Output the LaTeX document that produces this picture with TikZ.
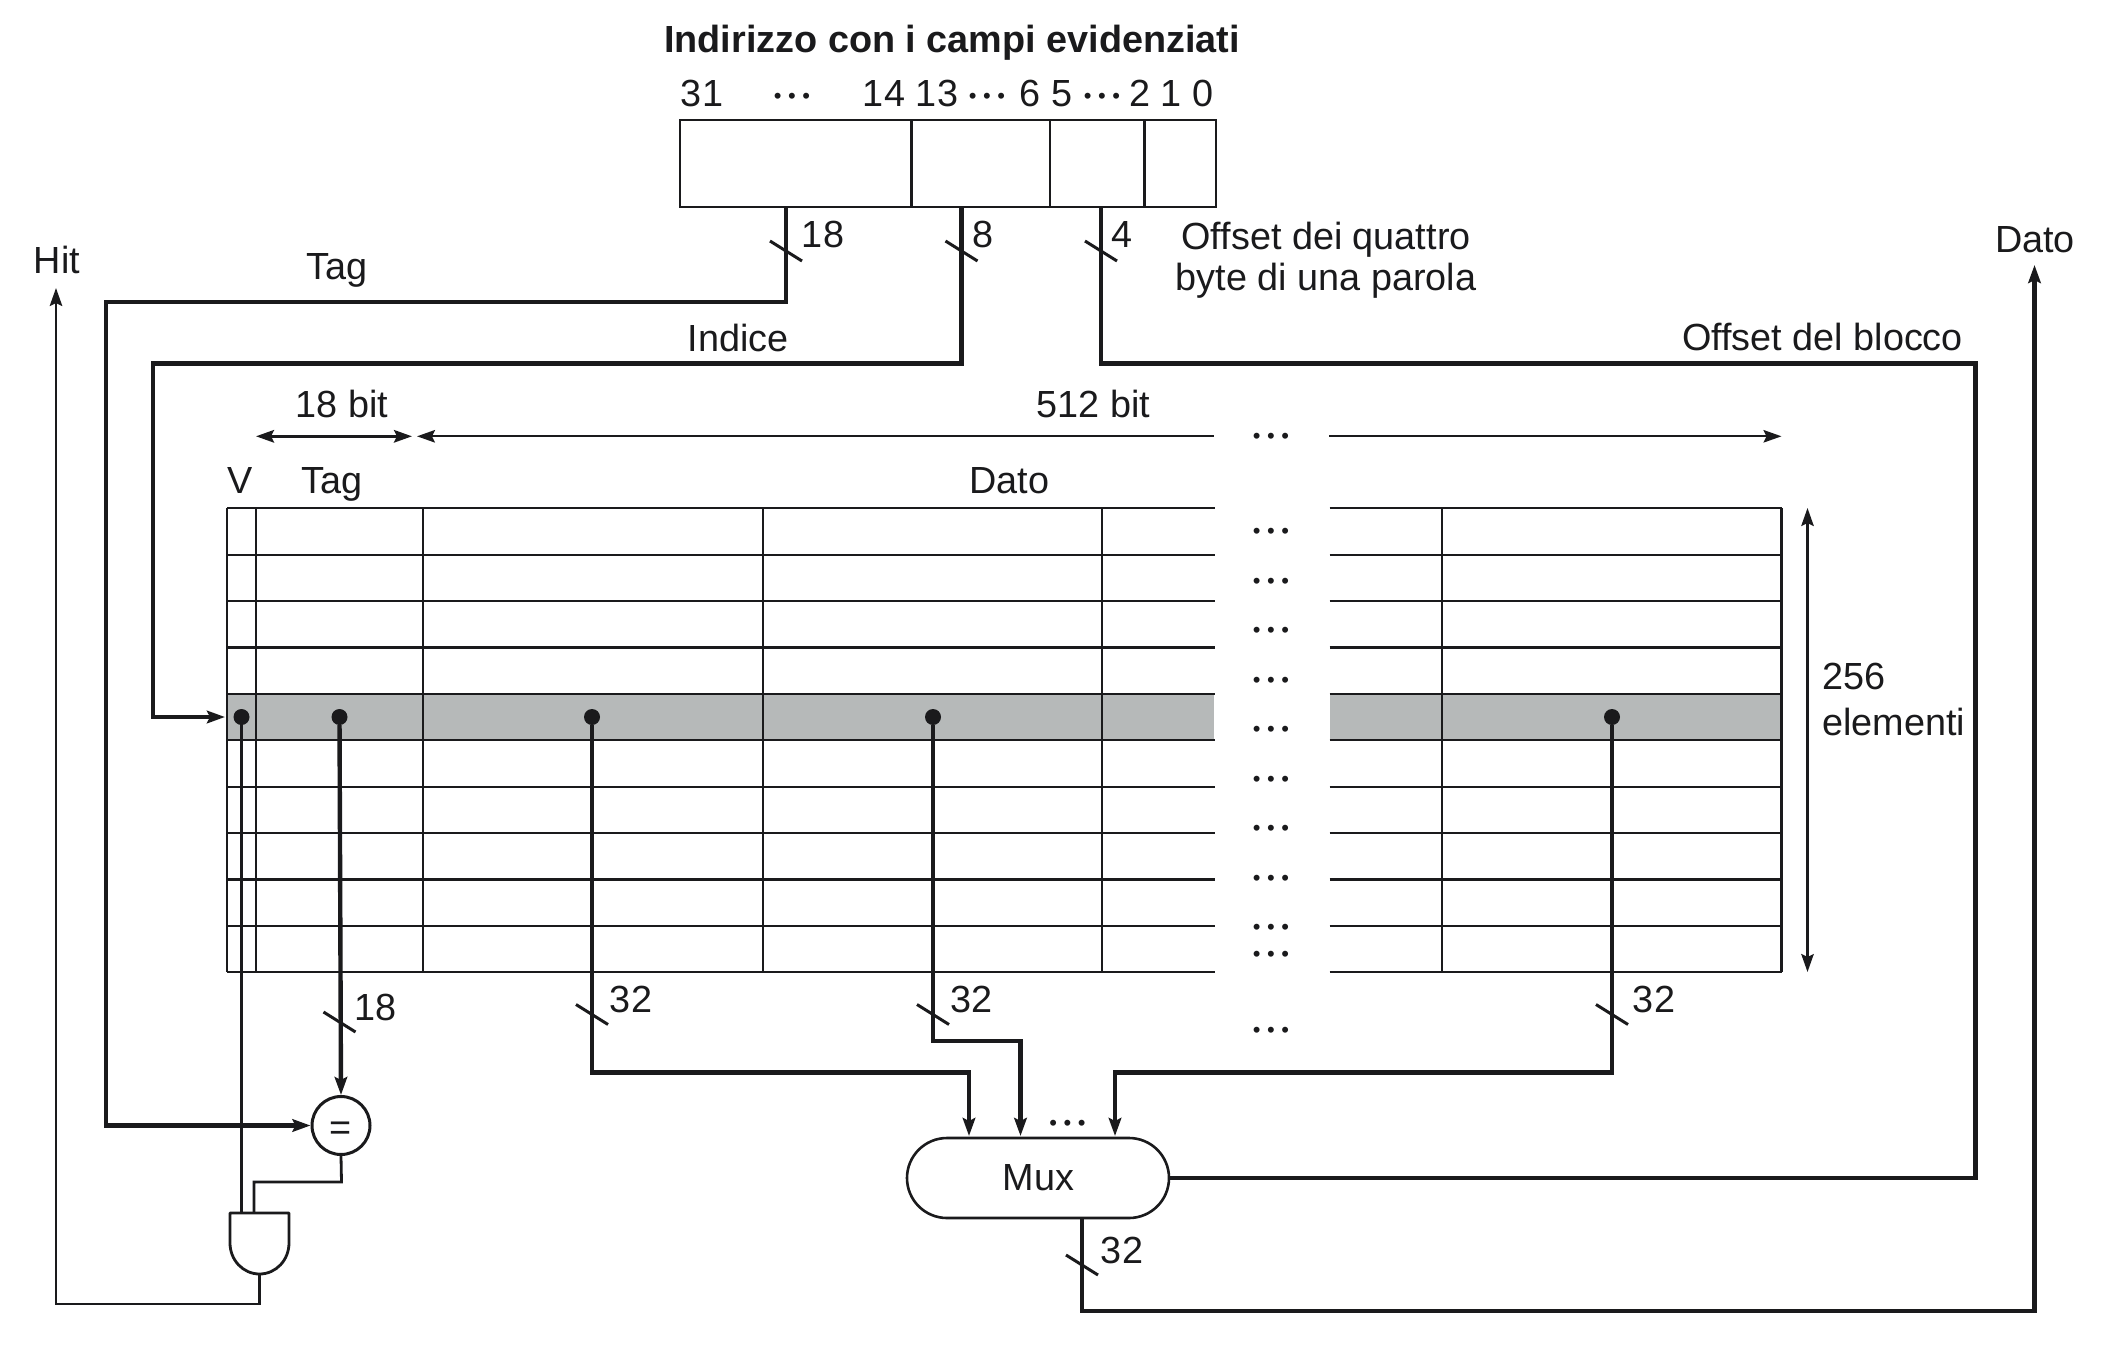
\documentclass[tikz,border=0pt]{standalone}
\usepackage{fontspec}
\setmainfont{Liberation Sans}
\usetikzlibrary{arrows.meta,shapes.misc}
\definecolor{ink}{HTML}{1A1A1C}
\definecolor{barfill}{HTML}{B6B9B9}
\newcommand{\dd}{{\fontsize{22}{24}\selectfont\textbullet\kern6.6pt\textbullet\kern6.6pt\textbullet}}
\tikzset{
  thinl/.style={draw=ink,line width=2.2pt},
  bus/.style={draw=ink,line width=4.4pt},
  sig/.style={draw=ink,line width=2.8pt},
  arr/.style={-{Stealth[length=18pt,width=12.5pt,inset=3pt]}},
  arrb/.style={{Stealth[length=18pt,width=12.5pt,inset=3pt]}-{Stealth[length=18pt,width=12.5pt,inset=3pt]}},
  arrl/.style={{Stealth[length=18pt,width=12.5pt,inset=3pt]}-},
  lab/.style={text=ink,font=\fontsize{37.8}{42}\selectfont,inner sep=0pt,anchor=base},
  labl/.style={lab,anchor=base west},
  dotn/.style={circle,fill=ink,draw=none,minimum size=16pt,inner sep=0pt},
  tick/.style={draw=ink,line width=3pt},
}
\begin{document}
\begin{tikzpicture}[x=1pt,y=-1pt]
\useasboundingbox (0,0) rectangle (2102,1352);
% title and bit numbers
\node[lab,font=\bfseries\fontsize{37.8}{42}\selectfont] (title) at (952,52) {Indirizzo con i campi evidenziati};
\node[lab] (n31) at (702,106) {31};
\node[lab] (ndA) at (792,103) {\dd};
\node[lab] (n14) at (884,106) {14};
\node[lab] (n13) at (937,106) {13};
\node[lab] (ndB) at (987,103) {\dd};
\node[lab] (n6) at (1030,106) {6};
\node[lab] (n5) at (1062,106) {5};
\node[lab] (ndC) at (1102,103) {\dd};
\node[lab] (n2) at (1140,106) {2};
\node[lab] (n1) at (1171,106) {1};
\node[lab] (n0) at (1203,106) {0};
% address register
\draw[thinl] (680,120) rectangle (1216,207);
\draw[thinl] (911.5,120) -- (911.5,207) (1050,120) -- (1050,207) (1144.5,120) -- (1144.5,207);
\coordinate (aTag) at (786,207);
\coordinate (aIdx) at (961.5,207);
\coordinate (aOff) at (1101,207);
% gray row
\fill[barfill] (227,694) rectangle (1214,740);
\fill[barfill] (1329.5,694) rectangle (1781.5,740);
% table
\foreach \i in {0,...,10}{
  \draw[thinl] (227,{508.2+46.41*\i}) -- (1214.5,{508.2+46.41*\i});
  \draw[thinl] (1329.5,{508.2+46.41*\i}) -- (1781.5,{508.2+46.41*\i});
}
\foreach \x in {227,256,423,763,1102,1442,1781.5}{
  \draw[thinl] (\x,508.2) -- (\x,972.3);
}
% row dots
\foreach \y/\n in {530.7/a,580.3/b,629.7/c,679.3/d,728.7/e,778/f,827.3/g,877/h,926.3/i,953/j}{
  \node[lab] (row\n) at (1271,\y+8) {\dd};
}
\node[lab] (dotTop) at (1271,443.7) {\dd};
\node[lab] (dotLow) at (1271,1037) {\dd};
\node[lab] (dotMux) at (1067.5,1130) {\dd};
% size arrows
\coordinate (sbL) at (256,436.3); \coordinate (sbR) at (412,436.3);
\draw[bus,line width=3pt,arrb] (sbL) -- (sbR);
\coordinate (wL) at (417,436.3); \coordinate (wM) at (1214,436.3);
\draw[thinl,arrl] (wL) -- (wM);
\coordinate (wN) at (1329,436.3); \coordinate (wR) at (1781.5,436.3);
\draw[thinl,arr] (wN) -- (wR);
\coordinate (hT) at (1807.5,508); \coordinate (hB) at (1807.5,972);
\draw[thinl,arrb] (hT) -- (hB);
% read points
\node[dotn] (dV) at (241.5,717) {};
\node[dotn] (dT) at (339.5,717) {};
\node[dotn] (d1) at (592,717) {};
\node[dotn] (d2) at (933,717) {};
\node[dotn] (d3) at (1612,717) {};
% comparator, gate, mux
\node[circle,draw=ink,line width=3pt,minimum size=58pt,inner sep=0pt] (eq) at (341,1125.5) {};
\node[lab] (eqT) at (341,1140) {=};
\draw[sig,fill=white,line join=round] (230,1213) -- (289,1213) -- (289,1243) .. controls (289,1260) and (276,1274) .. (259.5,1274) .. controls (243,1274) and (230,1260) .. (230,1243) -- cycle;
\coordinate (gateIn1) at (241.5,1213);
\coordinate (gateIn2) at (254,1213);
\coordinate (gateOut) at (259.5,1274);
\node[rounded rectangle,draw=ink,line width=2.6pt,minimum width=262pt,minimum height=80pt,inner sep=0pt,fill=white] (mux) at (1038,1178) {};
\node[lab] (muxT) at (1038.5,1190) {Mux};
% tag and index buses
\coordinate (c1) at (786,302); \coordinate (c2) at (106,302); \coordinate (c3) at (106,1125.5);
\draw[bus,arr] (aTag) -- (c1) -- (c2) -- (c3) -- (eq.west);
\coordinate (c4) at (961.5,363.3); \coordinate (c5) at (153,363.3); \coordinate (c6) at (153,717); \coordinate (rowIn) at (225,717);
\draw[bus,arr] (aIdx) -- (c4) -- (c5) -- (c6) -- (rowIn);
\coordinate (c7) at (1101,363.3); \coordinate (c8) at (1975.5,363.3); \coordinate (c9) at (1975.5,1178);
\draw[bus] (aOff) -- (c7) -- (c8) -- (c9) -- (mux.east);
% data out
\coordinate (m1) at (1082,1218); \coordinate (m2) at (1082,1311); \coordinate (m3) at (2034.5,1311); \coordinate (m4) at (2034.5,265);
\draw[bus,arr] (m1) -- (m2) -- (m3) -- (m4);
% read lines
\draw[bus,arr] (dT) -- (eq.north);
\coordinate (r1) at (592,1072.3); \coordinate (r2) at (969,1072.3); \coordinate (mi1) at (969,1136);
\draw[bus,arr] (d1) -- (r1) -- (r2) -- (mi1);
\coordinate (r3) at (933,1041); \coordinate (r4) at (1020.5,1041); \coordinate (mi2) at (1020.5,1136);
\draw[bus,arr] (d2) -- (r3) -- (r4) -- (mi2);
\coordinate (r5) at (1612,1072.3); \coordinate (r6) at (1115,1072.3); \coordinate (mi3) at (1115,1136);
\draw[bus,arr] (d3) -- (r5) -- (r6) -- (mi3);
% valid and gate wires
\draw[sig] (dV) -- (gateIn1);
\coordinate (g1) at (341.5,1182); \coordinate (g2) at (254,1182);
\draw[sig] (eq.south) -- (g1) -- (g2) -- (gateIn2);
\coordinate (h1) at (259.5,1304); \coordinate (h2) at (56,1304); \coordinate (h3) at (56,288);
\draw[thinl,arr] (gateOut) -- (h1) -- (h2) -- (h3);
% slash ticks
\foreach \x/\y in {786/251,961.5/251,1101/251,339.5/1022,592/1014.5,933/1014.5,1612/1014.5,1082/1265}{
  \draw[tick] (\x-16,\y-10) -- (\x+16,\y+10);
}
% labels
\node[lab] (lb18) at (823,247) {18};
\node[lab] (lb8) at (983,247) {8};
\node[lab] (lb4) at (1122,247) {4};
\node[lab] (lq) at (1326,249.5) {Offset dei quattro};
\node[lab] (lp) at (1326,290.5) {byte di una parola};
\node[lab] (lHit) at (57,273) {Hit};
\node[lab] (lTag) at (337,279.5) {Tag};
\node[lab] (lIdx) at (738,351) {Indice};
\node[lab] (lOB) at (1822.5,350.5) {Offset del blocco};
\node[lab] (lDO) at (2035,252) {Dato};
\node[lab] (l18b) at (342,417.5) {18 bit};
\node[lab] (l512) at (1093.5,417.5) {512 bit};
\node[lab] (lV) at (240,493.5) {V};
\node[lab] (lTag2) at (332,493.5) {Tag};
\node[lab] (lDato) at (1009.5,493.5) {Dato};
\node[labl] (l256) at (1822,689) {256};
\node[labl] (lel) at (1822,735) {elementi};
\node[lab] (lo18) at (376,1020) {18};
\node[lab] (lo32a) at (631,1012) {32};
\node[lab] (lo32b) at (971.5,1012) {32};
\node[lab] (lo32c) at (1654,1012) {32};
\node[lab] (lo32d) at (1122,1263) {32};
\end{tikzpicture}
\end{document}
